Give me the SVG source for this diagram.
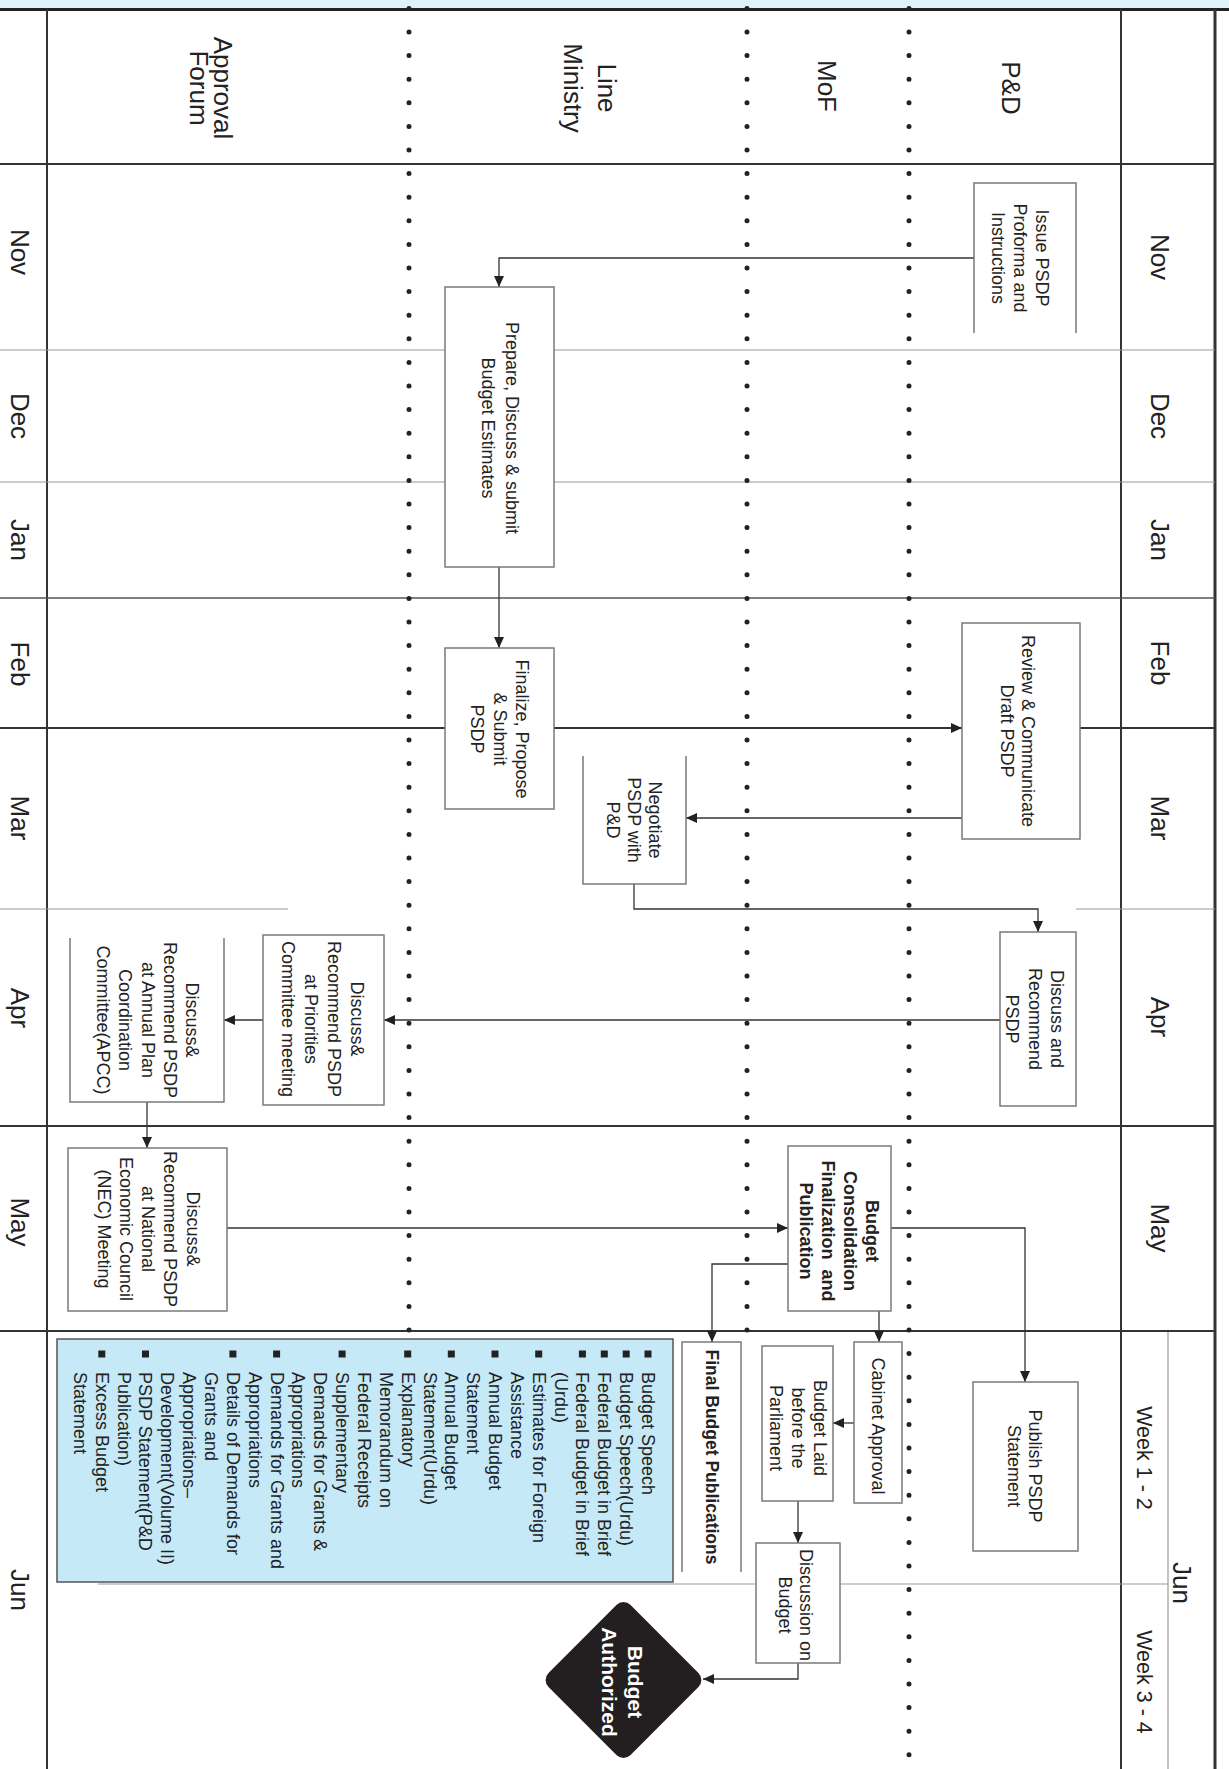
<svg xmlns="http://www.w3.org/2000/svg" width="1229" height="1769" viewBox="0 0 1229 1769">
<defs>
<style>
.box{fill:#fff;stroke:#7a7a7a;stroke-width:1.5}
.bg{fill:#fff;stroke:none}
.edge{fill:none;stroke:#7a7a7a;stroke-width:1.5}
.t{font-family:"Liberation Sans",Arial,sans-serif;font-size:18px;fill:#222;text-anchor:middle;dominant-baseline:central}
.b{font-weight:bold}
.hd{font-size:26px}
.wk{font-size:21.5px}
.li{text-anchor:start}
.c{fill:none;stroke:#333;stroke-width:1.3}
.gd{stroke:#333;stroke-width:2}
.gl{stroke:#9a9a9a;stroke-width:1.2}
.dots{stroke:#222;stroke-width:5;stroke-linecap:round;stroke-dasharray:0 23.6;fill:none}
</style>
<marker id="ah" viewBox="0 0 11 10" refX="11" refY="5" markerWidth="11" markerHeight="10" markerUnits="userSpaceOnUse" orient="auto">
<path d="M0,0 L11,5 L0,10 z" fill="#222"/>
</marker>
</defs>
<rect x="0" y="0" width="1229" height="1769" fill="#fff"/>
<rect x="0" y="0" width="1229" height="8" fill="#dff1fb"/>

<g id="grid">
<line x1="0" y1="9.5" x2="1229" y2="9.5" stroke="#222" stroke-width="3"/>
<line x1="47" y1="9" x2="47" y2="1769" class="gd"/>
<line x1="1121" y1="9" x2="1121" y2="1769" class="gd"/>
<line x1="1215" y1="9" x2="1215" y2="1769" stroke="#333" stroke-width="3"/>
<line x1="1168" y1="1331" x2="1168" y2="1769" class="gl"/>
<line x1="0" y1="164" x2="1215" y2="164" class="gd"/>
<line x1="0" y1="350" x2="1215" y2="350" class="gl"/>
<line x1="0" y1="482" x2="1215" y2="482" class="gl"/>
<line x1="0" y1="598" x2="1215" y2="598" stroke="#555" stroke-width="1.5"/>
<line x1="0" y1="728" x2="1215" y2="728" class="gd"/>
<line x1="0" y1="909" x2="288" y2="909" class="gl"/>
<line x1="1076" y1="909" x2="1215" y2="909" class="gl"/>
<line x1="0" y1="1126" x2="1215" y2="1126" class="gd"/>
<line x1="0" y1="1331" x2="1215" y2="1331" class="gd"/>
<line x1="98" y1="1584" x2="1168" y2="1584" class="gl"/>
<line x1="409" y1="8.4" x2="409" y2="1340" class="dots"/>
<line x1="747" y1="8.4" x2="747" y2="1340" class="dots"/>
<line x1="909" y1="8.4" x2="909" y2="1769" class="dots"/>
</g>

<g id="headers">
<text class="t hd" transform="translate(211,88) rotate(90)"><tspan x="0" y="-12">Approval</tspan><tspan x="0" y="12">Forum</tspan></text>
<text class="t hd" transform="translate(590,88) rotate(90)"><tspan x="0" y="-17">Line</tspan><tspan x="0" y="17">Ministry</tspan></text>
<text class="t hd" transform="translate(827,86) rotate(90)">MoF</text>
<text class="t hd" transform="translate(1011,88) rotate(90)">P&amp;D</text>
</g>

<g id="months">
<text class="t hd" transform="translate(20,252) rotate(90)">Nov</text>
<text class="t hd" transform="translate(20,416) rotate(90)">Dec</text>
<text class="t hd" transform="translate(20,540) rotate(90)">Jan</text>
<text class="t hd" transform="translate(20,664) rotate(90)">Feb</text>
<text class="t hd" transform="translate(20,818) rotate(90)">Mar</text>
<text class="t hd" transform="translate(20,1008) rotate(90)">Apr</text>
<text class="t hd" transform="translate(20,1222) rotate(90)">May</text>
<text class="t hd" transform="translate(20,1590) rotate(90)">Jun</text>
<text class="t hd" transform="translate(1160,257) rotate(90)">Nov</text>
<text class="t hd" transform="translate(1160,416) rotate(90)">Dec</text>
<text class="t hd" transform="translate(1160,540) rotate(90)">Jan</text>
<text class="t hd" transform="translate(1160,663) rotate(90)">Feb</text>
<text class="t hd" transform="translate(1160,818) rotate(90)">Mar</text>
<text class="t hd" transform="translate(1160,1017) rotate(90)">Apr</text>
<text class="t hd" transform="translate(1160,1228) rotate(90)">May</text>
<text class="t wk" transform="translate(1144,1458) rotate(90)">Week 1 - 2</text>
<text class="t wk" transform="translate(1144,1682) rotate(90)">Week 3 - 4</text>
<text class="t hd" transform="translate(1182,1583) rotate(90)">Jun</text>
</g>

<g id="connectors">
<polyline class="c" points="974,258 499,258 499,287" marker-end="url(#ah)"/>
<polyline class="c" points="499,567 499,648" marker-end="url(#ah)"/>
<polyline class="c" points="554,728 962,728" marker-end="url(#ah)"/>
<polyline class="c" points="962,818 686,818" marker-end="url(#ah)" stroke="#777"/>
<polyline class="c" points="634,884 634,909 1038,909 1038,932" marker-end="url(#ah)"/>
<polyline class="c" points="1000,1020 384,1020" marker-end="url(#ah)"/>
<polyline class="c" points="263,1020 224,1020" marker-end="url(#ah)"/>
<polyline class="c" points="147,1102 147,1148" marker-end="url(#ah)"/>
<polyline class="c" points="227,1228 788,1228" marker-end="url(#ah)"/>
<polyline class="c" points="788,1264 712,1264 712,1342" marker-end="url(#ah)"/>
<polyline class="c" points="891,1228 1025,1228 1025,1382" marker-end="url(#ah)" stroke="#777"/>
<polyline class="c" points="879,1311 879,1342" marker-end="url(#ah)"/>
<polyline class="c" points="854,1423 833,1423" marker-end="url(#ah)"/>
<polyline class="c" points="798,1501 798,1543" marker-end="url(#ah)"/>
<polyline class="c" points="798,1663 798,1679 703,1679" marker-end="url(#ah)"/>
</g>

<g id="issue">
<rect class="bg" x="974" y="183" width="102" height="150"/>
<path class="edge" d="M974,333 V183 H1076 V333"/>
<text class="t" transform="translate(1020,258) rotate(90)"><tspan x="0" y="-22">Issue PSDP</tspan><tspan x="0" y="0">Proforma and</tspan><tspan x="0" y="22">Instructions</tspan></text>
</g>
<g id="prepare">
<rect class="box" x="445" y="287" width="109" height="280"/>
<text class="t" transform="translate(500,428) rotate(90)"><tspan x="0" y="-12">Prepare, Discuss &amp; submit</tspan><tspan x="0" y="12">Budget Estimates</tspan></text>
</g>
<g id="finalize">
<rect class="box" x="445" y="648" width="109" height="161"/>
<text class="t" transform="translate(499.5,729) rotate(90)"><tspan x="0" y="-22.5">Finalize, Propose</tspan><tspan x="0" y="0">&amp; Submit</tspan><tspan x="0" y="22.5">PSDP</tspan></text>
</g>
<g id="review">
<rect class="box" x="962" y="623" width="118" height="216"/>
<text class="t" transform="translate(1017.5,731) rotate(90)"><tspan x="0" y="-10.5">Review &amp; Communicate</tspan><tspan x="0" y="10.5">Draft PSDP</tspan></text>
</g>
<g id="negotiate">
<rect class="bg" x="583" y="756" width="103" height="128"/>
<path class="edge" d="M583,756 V884 H686 V756"/>
<text class="t" transform="translate(634,820) rotate(90)"><tspan x="0" y="-21">Negotiate</tspan><tspan x="0" y="0">PSDP with</tspan><tspan x="0" y="21">P&amp;D</tspan></text>
</g>
<g id="discuss-pd">
<rect class="box" x="1000" y="932" width="76" height="174"/>
<text class="t" transform="translate(1034.5,1019) rotate(90)"><tspan x="0" y="-22.5">Discuss and</tspan><tspan x="0" y="0">Recommend</tspan><tspan x="0" y="22.5">PSDP</tspan></text>
</g>
<g id="priorities">
<rect class="box" x="263" y="935" width="121" height="170"/>
<text class="t" transform="translate(322.5,1019) rotate(90)"><tspan x="0" y="-34.5">Discuss&amp;</tspan><tspan x="0" y="-11.5">Recommend PSDP</tspan><tspan x="0" y="11.5">at Priorities</tspan><tspan x="0" y="34.5">Committee meeting</tspan></text>
</g>
<g id="apcc">
<rect class="bg" x="70" y="938" width="154" height="164"/>
<path class="edge" d="M70,938 V1102 H224 V938"/>
<text class="t" transform="translate(147.5,1020) rotate(90)"><tspan x="0" y="-44.5">Discuss&amp;</tspan><tspan x="0" y="-22.25">Recommend PSDP</tspan><tspan x="0" y="0">at Annual Plan</tspan><tspan x="0" y="22.25">Coordination</tspan><tspan x="0" y="44.5">Committee(APCC)</tspan></text>
</g>
<g id="nec">
<rect class="box" x="68" y="1148" width="159" height="163"/>
<text class="t" transform="translate(148,1229) rotate(90)"><tspan x="0" y="-44.5">Discuss&amp;</tspan><tspan x="0" y="-22.25">Recommend PSDP</tspan><tspan x="0" y="0">at National</tspan><tspan x="0" y="22.25">Economic Council</tspan><tspan x="0" y="44.5">(NEC) Meeting</tspan></text>
</g>
<g id="consolidation">
<rect class="box" x="788" y="1146" width="103" height="165"/>
<text class="t b" transform="translate(839,1231) rotate(90)"><tspan x="0" y="-33">Budget</tspan><tspan x="0" y="-11">Consolidation</tspan><tspan x="0" y="11">Finalization&#160; and</tspan><tspan x="0" y="33">Publication</tspan></text>
</g>
<g id="cabinet">
<rect class="box" x="854" y="1342" width="48" height="161"/>
<text class="t" transform="translate(878,1426) rotate(90)">Cabinet Approval</text>
</g>
<g id="laid">
<rect class="box" x="762" y="1346" width="71" height="155"/>
<text class="t" transform="translate(797.5,1428) rotate(90)"><tspan x="0" y="-22">Budget Laid</tspan><tspan x="0" y="0">before the</tspan><tspan x="0" y="22">Parliament</tspan></text>
</g>
<g id="discussion">
<rect class="box" x="756" y="1543" width="84" height="120"/>
<text class="t" transform="translate(795.5,1605) rotate(90)"><tspan x="0" y="-10.5">Discussion on</tspan><tspan x="0" y="10.5">Budget</tspan></text>
</g>
<g id="publish">
<rect class="box" x="973" y="1382" width="105" height="169"/>
<text class="t" transform="translate(1024.5,1466) rotate(90)"><tspan x="0" y="-10.5">Publish PSDP</tspan><tspan x="0" y="10.5">Statement</tspan></text>
</g>
<g id="final-pubs">
<rect class="bg" x="682" y="1342" width="59" height="230"/>
<path class="edge" d="M682,1572 V1342 H741 V1572"/>
<text class="t b" style="font-size:17.5px" transform="translate(711.5,1457) rotate(90)">Final Budget Publications</text>
</g>
<g id="pub-list">
<rect x="57" y="1339" width="616" height="243" fill="#c6e9f8" stroke="#555" stroke-width="1.5"/>
<g fill="#222">
<rect x="644.5" y="1350.5" width="7" height="7"/>
<rect x="622.7" y="1350.5" width="7" height="7"/>
<rect x="600.8" y="1350.5" width="7" height="7"/>
<rect x="578.9" y="1350.5" width="7" height="7"/>
<rect x="535.2" y="1350.5" width="7" height="7"/>
<rect x="491.5" y="1350.5" width="7" height="7"/>
<rect x="447.8" y="1350.5" width="7" height="7"/>
<rect x="404.2" y="1350.5" width="7" height="7"/>
<rect x="338.6" y="1350.5" width="7" height="7"/>
<rect x="273.1" y="1350.5" width="7" height="7"/>
<rect x="229.4" y="1350.5" width="7" height="7"/>
<rect x="142.0" y="1350.5" width="7" height="7"/>
<rect x="98.3" y="1350.5" width="7" height="7"/>
</g>
<text class="t li" transform="translate(648,1372) rotate(90)">
<tspan x="0" y="0">Budget Speech</tspan>
<tspan x="0" y="21.85">Budget Speech(Urdu)</tspan>
<tspan x="0" y="43.7">Federal Budget in Brief</tspan>
<tspan x="0" y="65.55">Federal Budget in Brief</tspan>
<tspan x="0" y="87.4">(Urdu)</tspan>
<tspan x="0" y="109.25">Estimates for Foreign</tspan>
<tspan x="0" y="131.1">Assistance</tspan>
<tspan x="0" y="152.95">Annual Budget</tspan>
<tspan x="0" y="174.8">Statement</tspan>
<tspan x="0" y="196.65">Annual Budget</tspan>
<tspan x="0" y="218.5">Statement(Urdu)</tspan>
<tspan x="0" y="240.35">Explanatory</tspan>
<tspan x="0" y="262.2">Memorandum on</tspan>
<tspan x="0" y="284.05">Federal Receipts</tspan>
<tspan x="0" y="305.9">Supplementary</tspan>
<tspan x="0" y="327.75">Demands for Grants &amp;</tspan>
<tspan x="0" y="349.6">Appropriations</tspan>
<tspan x="0" y="371.45">Demands for Grants and</tspan>
<tspan x="0" y="393.3">Appropriations</tspan>
<tspan x="0" y="415.15">Details of Demands for</tspan>
<tspan x="0" y="437">Grants and</tspan>
<tspan x="0" y="458.85">Appropriations–</tspan>
<tspan x="0" y="480.7">Development(Volume II)</tspan>
<tspan x="0" y="502.55">PSDP Statement(P&amp;D</tspan>
<tspan x="0" y="524.4">Publication)</tspan>
<tspan x="0" y="546.25">Excess Budget</tspan>
<tspan x="0" y="568.1">Statement</tspan>
</text>
</g>
<g id="authorized">
<rect x="-58" y="-58" width="116" height="116" rx="10" fill="#231f20" transform="translate(623.5,1680) rotate(45)"/>
<text class="t b" style="font-size:21px;fill:#fff" transform="translate(623,1682) rotate(90)"><tspan x="0" y="-13">Budget</tspan><tspan x="0" y="13">Authorized</tspan></text>
</g>
</svg>
